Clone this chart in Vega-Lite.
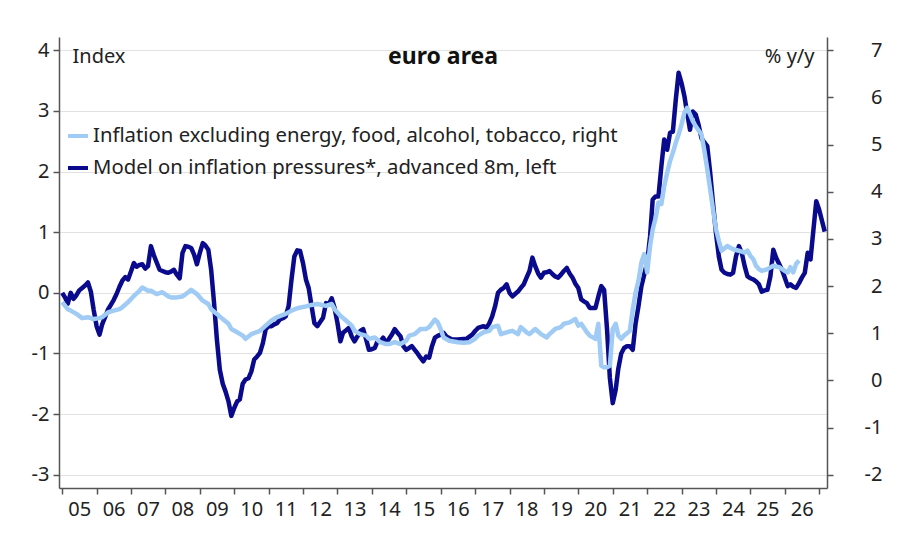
{
  "$schema": "https://vega.github.io/schema/vega-lite/v6.json",
  "width": 768,
  "height": 451,
  "autosize": {"type": "none"},
  "padding": {"left": 59, "top": 37, "right": 73, "bottom": 57},
  "background": "white",
  "config": {
    "font": "Noto Sans",
    "view": {"stroke": null},
    "axis": {
      "labelFontSize": 20,
      "labelColor": "#222",
      "domainColor": "#555",
      "tickColor": "#555",
      "domainWidth": 1.5,
      "tickWidth": 1.5,
      "tickSize": 6,
      "titleFontSize": 20,
      "titleFontWeight": "normal",
      "titleColor": "#222"
    }
  },
  "title": {
    "text": "euro area",
    "fontSize": 23,
    "fontWeight": "bold",
    "color": "#111",
    "anchor": "middle",
    "frame": "group",
    "baseline": "alphabetic",
    "offset": -29,
    "dy": 21
  },
  "datasets": {
    "model": [
      {"date": "2005-01-01", "value": 0.00}, {"date": "2005-02-01", "value": -0.08}, {"date": "2005-03-01", "value": -0.18},
      {"date": "2005-04-01", "value": 0.00}, {"date": "2005-05-01", "value": -0.10}, {"date": "2005-06-01", "value": -0.04},
      {"date": "2005-07-01", "value": 0.04}, {"date": "2005-08-01", "value": 0.08}, {"date": "2005-09-01", "value": 0.12},
      {"date": "2005-10-01", "value": 0.17}, {"date": "2005-11-01", "value": 0.02}, {"date": "2005-12-01", "value": -0.28},
      {"date": "2006-01-01", "value": -0.55}, {"date": "2006-02-01", "value": -0.69}, {"date": "2006-03-01", "value": -0.52},
      {"date": "2006-04-01", "value": -0.40}, {"date": "2006-05-01", "value": -0.28}, {"date": "2006-06-01", "value": -0.20},
      {"date": "2006-07-01", "value": -0.12}, {"date": "2006-08-01", "value": -0.02}, {"date": "2006-09-01", "value": 0.10},
      {"date": "2006-10-01", "value": 0.20}, {"date": "2006-11-01", "value": 0.26}, {"date": "2006-12-01", "value": 0.22},
      {"date": "2007-01-01", "value": 0.35}, {"date": "2007-02-01", "value": 0.49}, {"date": "2007-03-01", "value": 0.43},
      {"date": "2007-04-01", "value": 0.46}, {"date": "2007-05-01", "value": 0.47}, {"date": "2007-06-01", "value": 0.40},
      {"date": "2007-07-01", "value": 0.44}, {"date": "2007-08-01", "value": 0.77}, {"date": "2007-09-01", "value": 0.62},
      {"date": "2007-10-01", "value": 0.50}, {"date": "2007-11-01", "value": 0.38}, {"date": "2007-12-01", "value": 0.36},
      {"date": "2008-01-01", "value": 0.34}, {"date": "2008-02-01", "value": 0.33}, {"date": "2008-03-01", "value": 0.35},
      {"date": "2008-04-01", "value": 0.38}, {"date": "2008-05-01", "value": 0.30}, {"date": "2008-06-01", "value": 0.24},
      {"date": "2008-07-01", "value": 0.66}, {"date": "2008-08-01", "value": 0.77}, {"date": "2008-09-01", "value": 0.76},
      {"date": "2008-10-01", "value": 0.74}, {"date": "2008-11-01", "value": 0.63}, {"date": "2008-12-01", "value": 0.47},
      {"date": "2009-01-01", "value": 0.66}, {"date": "2009-02-01", "value": 0.82}, {"date": "2009-03-01", "value": 0.78},
      {"date": "2009-04-01", "value": 0.71}, {"date": "2009-05-01", "value": 0.38}, {"date": "2009-06-01", "value": -0.17},
      {"date": "2009-07-01", "value": -0.77}, {"date": "2009-08-01", "value": -1.27}, {"date": "2009-09-01", "value": -1.50},
      {"date": "2009-10-01", "value": -1.63}, {"date": "2009-11-01", "value": -1.79}, {"date": "2009-12-01", "value": -2.03},
      {"date": "2010-01-01", "value": -1.90}, {"date": "2010-02-01", "value": -1.79}, {"date": "2010-03-01", "value": -1.76},
      {"date": "2010-04-01", "value": -1.50}, {"date": "2010-05-01", "value": -1.43}, {"date": "2010-06-01", "value": -1.41},
      {"date": "2010-07-01", "value": -1.30}, {"date": "2010-08-01", "value": -1.10}, {"date": "2010-09-01", "value": -1.05},
      {"date": "2010-10-01", "value": -0.99}, {"date": "2010-11-01", "value": -0.83}, {"date": "2010-12-01", "value": -0.60},
      {"date": "2011-01-01", "value": -0.55}, {"date": "2011-02-01", "value": -0.55}, {"date": "2011-03-01", "value": -0.52},
      {"date": "2011-04-01", "value": -0.50}, {"date": "2011-05-01", "value": -0.44}, {"date": "2011-06-01", "value": -0.42},
      {"date": "2011-07-01", "value": -0.39}, {"date": "2011-08-01", "value": -0.22}, {"date": "2011-09-01", "value": 0.22},
      {"date": "2011-10-01", "value": 0.60}, {"date": "2011-11-01", "value": 0.70}, {"date": "2011-12-01", "value": 0.69},
      {"date": "2012-01-01", "value": 0.49}, {"date": "2012-02-01", "value": 0.22}, {"date": "2012-03-01", "value": 0.08},
      {"date": "2012-04-01", "value": -0.22}, {"date": "2012-05-01", "value": -0.50}, {"date": "2012-06-01", "value": -0.55},
      {"date": "2012-07-01", "value": -0.48}, {"date": "2012-08-01", "value": -0.41}, {"date": "2012-09-01", "value": -0.17},
      {"date": "2012-10-01", "value": -0.19}, {"date": "2012-11-01", "value": -0.09}, {"date": "2012-12-01", "value": -0.25},
      {"date": "2013-01-01", "value": -0.50}, {"date": "2013-02-01", "value": -0.80}, {"date": "2013-03-01", "value": -0.66},
      {"date": "2013-04-01", "value": -0.62}, {"date": "2013-05-01", "value": -0.58}, {"date": "2013-06-01", "value": -0.72},
      {"date": "2013-07-01", "value": -0.80}, {"date": "2013-08-01", "value": -0.72}, {"date": "2013-09-01", "value": -0.63},
      {"date": "2013-10-01", "value": -0.60}, {"date": "2013-11-01", "value": -0.77}, {"date": "2013-12-01", "value": -0.94},
      {"date": "2014-01-01", "value": -0.93}, {"date": "2014-02-01", "value": -0.91}, {"date": "2014-03-01", "value": -0.80},
      {"date": "2014-04-01", "value": -0.80}, {"date": "2014-05-01", "value": -0.74}, {"date": "2014-06-01", "value": -0.83},
      {"date": "2014-07-01", "value": -0.76}, {"date": "2014-08-01", "value": -0.69}, {"date": "2014-09-01", "value": -0.60},
      {"date": "2014-10-01", "value": -0.66}, {"date": "2014-11-01", "value": -0.72}, {"date": "2014-12-01", "value": -0.88},
      {"date": "2015-01-01", "value": -0.94}, {"date": "2015-02-01", "value": -0.91}, {"date": "2015-03-01", "value": -0.88},
      {"date": "2015-04-01", "value": -0.94}, {"date": "2015-05-01", "value": -1.00}, {"date": "2015-06-01", "value": -1.07},
      {"date": "2015-07-01", "value": -1.13}, {"date": "2015-08-01", "value": -1.05}, {"date": "2015-09-01", "value": -1.07},
      {"date": "2015-10-01", "value": -0.88}, {"date": "2015-11-01", "value": -0.74}, {"date": "2015-12-01", "value": -0.71},
      {"date": "2016-01-01", "value": -0.69}, {"date": "2016-02-01", "value": -0.66}, {"date": "2016-03-01", "value": -0.72},
      {"date": "2016-05-01", "value": -0.77}, {"date": "2016-07-01", "value": -0.77}, {"date": "2016-09-01", "value": -0.76},
      {"date": "2016-10-01", "value": -0.76}, {"date": "2016-12-01", "value": -0.69}, {"date": "2017-01-01", "value": -0.63},
      {"date": "2017-02-01", "value": -0.58}, {"date": "2017-04-01", "value": -0.55}, {"date": "2017-05-01", "value": -0.58},
      {"date": "2017-06-01", "value": -0.50}, {"date": "2017-07-01", "value": -0.39}, {"date": "2017-08-01", "value": -0.22},
      {"date": "2017-09-01", "value": 0.00}, {"date": "2017-10-01", "value": 0.05}, {"date": "2017-11-01", "value": 0.08},
      {"date": "2017-12-01", "value": 0.14}, {"date": "2018-01-01", "value": 0.00}, {"date": "2018-02-01", "value": -0.06},
      {"date": "2018-03-01", "value": -0.02}, {"date": "2018-04-01", "value": 0.02}, {"date": "2018-05-01", "value": 0.08},
      {"date": "2018-06-01", "value": 0.14}, {"date": "2018-07-01", "value": 0.25}, {"date": "2018-08-01", "value": 0.36},
      {"date": "2018-09-01", "value": 0.58}, {"date": "2018-10-01", "value": 0.44}, {"date": "2018-11-01", "value": 0.32},
      {"date": "2018-12-01", "value": 0.25}, {"date": "2019-01-01", "value": 0.33}, {"date": "2019-02-01", "value": 0.34},
      {"date": "2019-03-01", "value": 0.36}, {"date": "2019-04-01", "value": 0.31}, {"date": "2019-05-01", "value": 0.27},
      {"date": "2019-06-01", "value": 0.25}, {"date": "2019-07-01", "value": 0.30}, {"date": "2019-08-01", "value": 0.36},
      {"date": "2019-09-01", "value": 0.41}, {"date": "2019-10-01", "value": 0.32}, {"date": "2019-11-01", "value": 0.25},
      {"date": "2019-12-01", "value": 0.15}, {"date": "2020-01-01", "value": 0.08}, {"date": "2020-02-01", "value": -0.11},
      {"date": "2020-03-01", "value": -0.14}, {"date": "2020-04-01", "value": -0.17}, {"date": "2020-05-01", "value": -0.25},
      {"date": "2020-06-01", "value": -0.25}, {"date": "2020-07-01", "value": -0.25}, {"date": "2020-08-01", "value": -0.06},
      {"date": "2020-09-01", "value": 0.11}, {"date": "2020-10-01", "value": 0.05}, {"date": "2020-11-01", "value": -0.60},
      {"date": "2020-12-01", "value": -1.40}, {"date": "2021-01-01", "value": -1.82}, {"date": "2021-02-01", "value": -1.60},
      {"date": "2021-03-01", "value": -1.25}, {"date": "2021-04-01", "value": -1.00}, {"date": "2021-05-01", "value": -0.91},
      {"date": "2021-06-01", "value": -0.88}, {"date": "2021-07-01", "value": -0.88}, {"date": "2021-08-01", "value": -0.94},
      {"date": "2021-09-01", "value": -0.50}, {"date": "2021-10-01", "value": -0.22}, {"date": "2021-11-01", "value": 0.11},
      {"date": "2021-12-01", "value": 0.30}, {"date": "2022-01-01", "value": 0.50}, {"date": "2022-02-01", "value": 0.93},
      {"date": "2022-03-01", "value": 1.54}, {"date": "2022-04-01", "value": 1.59}, {"date": "2022-05-01", "value": 1.59},
      {"date": "2022-06-01", "value": 2.09}, {"date": "2022-07-01", "value": 2.53}, {"date": "2022-08-01", "value": 2.36},
      {"date": "2022-09-01", "value": 2.64}, {"date": "2022-10-01", "value": 2.66}, {"date": "2022-11-01", "value": 3.19},
      {"date": "2022-12-01", "value": 3.63}, {"date": "2023-01-01", "value": 3.46}, {"date": "2023-02-01", "value": 3.24},
      {"date": "2023-03-01", "value": 2.97}, {"date": "2023-04-01", "value": 2.69}, {"date": "2023-05-01", "value": 2.99},
      {"date": "2023-06-01", "value": 2.94}, {"date": "2023-07-01", "value": 2.77}, {"date": "2023-08-01", "value": 2.55},
      {"date": "2023-09-01", "value": 2.48}, {"date": "2023-10-01", "value": 2.42}, {"date": "2023-11-01", "value": 1.98},
      {"date": "2023-12-01", "value": 1.48}, {"date": "2024-01-01", "value": 0.99}, {"date": "2024-02-01", "value": 0.60},
      {"date": "2024-03-01", "value": 0.38}, {"date": "2024-04-01", "value": 0.33}, {"date": "2024-05-01", "value": 0.31},
      {"date": "2024-06-01", "value": 0.30}, {"date": "2024-07-01", "value": 0.33}, {"date": "2024-08-01", "value": 0.60},
      {"date": "2024-09-01", "value": 0.77}, {"date": "2024-10-01", "value": 0.66}, {"date": "2024-11-01", "value": 0.44},
      {"date": "2024-12-01", "value": 0.27}, {"date": "2025-01-01", "value": 0.24}, {"date": "2025-02-01", "value": 0.22},
      {"date": "2025-03-01", "value": 0.19}, {"date": "2025-04-01", "value": 0.14}, {"date": "2025-05-01", "value": 0.02},
      {"date": "2025-06-01", "value": 0.04}, {"date": "2025-07-01", "value": 0.05}, {"date": "2025-08-01", "value": 0.27},
      {"date": "2025-09-01", "value": 0.71}, {"date": "2025-10-01", "value": 0.58}, {"date": "2025-11-01", "value": 0.48},
      {"date": "2025-12-01", "value": 0.38}, {"date": "2026-01-01", "value": 0.25}, {"date": "2026-02-01", "value": 0.11},
      {"date": "2026-03-01", "value": 0.14}, {"date": "2026-04-01", "value": 0.10}, {"date": "2026-05-01", "value": 0.08},
      {"date": "2026-06-01", "value": 0.16}, {"date": "2026-07-01", "value": 0.25}, {"date": "2026-08-01", "value": 0.33},
      {"date": "2026-09-01", "value": 0.66}, {"date": "2026-10-01", "value": 0.55}, {"date": "2026-11-01", "value": 1.04},
      {"date": "2026-12-01", "value": 1.51}, {"date": "2027-01-01", "value": 1.37}, {"date": "2027-02-01", "value": 1.18},
      {"date": "2027-03-01", "value": 1.01}
    ],
    "core": [
      {"date": "2005-01-01", "value": 1.66}, {"date": "2005-03-01", "value": 1.51}, {"date": "2005-04-01", "value": 1.48},
      {"date": "2005-06-01", "value": 1.41}, {"date": "2005-08-01", "value": 1.32}, {"date": "2005-10-01", "value": 1.34},
      {"date": "2005-12-01", "value": 1.30}, {"date": "2006-02-01", "value": 1.32}, {"date": "2006-03-01", "value": 1.34},
      {"date": "2006-05-01", "value": 1.44}, {"date": "2006-07-01", "value": 1.48}, {"date": "2006-09-01", "value": 1.51},
      {"date": "2006-10-01", "value": 1.55}, {"date": "2006-12-01", "value": 1.66}, {"date": "2007-02-01", "value": 1.79},
      {"date": "2007-04-01", "value": 1.90}, {"date": "2007-05-01", "value": 1.97}, {"date": "2007-07-01", "value": 1.90},
      {"date": "2007-08-01", "value": 1.90}, {"date": "2007-10-01", "value": 1.83}, {"date": "2007-12-01", "value": 1.87},
      {"date": "2008-02-01", "value": 1.78}, {"date": "2008-03-01", "value": 1.76}, {"date": "2008-05-01", "value": 1.76},
      {"date": "2008-07-01", "value": 1.78}, {"date": "2008-09-01", "value": 1.87}, {"date": "2008-10-01", "value": 1.92},
      {"date": "2008-12-01", "value": 1.83}, {"date": "2009-02-01", "value": 1.69}, {"date": "2009-04-01", "value": 1.62},
      {"date": "2009-05-01", "value": 1.51}, {"date": "2009-07-01", "value": 1.41}, {"date": "2009-09-01", "value": 1.30},
      {"date": "2009-11-01", "value": 1.20}, {"date": "2009-12-01", "value": 1.09}, {"date": "2010-02-01", "value": 1.02},
      {"date": "2010-04-01", "value": 0.95}, {"date": "2010-05-01", "value": 0.88}, {"date": "2010-07-01", "value": 0.98},
      {"date": "2010-10-01", "value": 1.05}, {"date": "2010-12-01", "value": 1.16}, {"date": "2011-02-01", "value": 1.27},
      {"date": "2011-04-01", "value": 1.34}, {"date": "2011-07-01", "value": 1.41}, {"date": "2011-09-01", "value": 1.48},
      {"date": "2011-11-01", "value": 1.53}, {"date": "2012-02-01", "value": 1.57}, {"date": "2012-04-01", "value": 1.60},
      {"date": "2012-06-01", "value": 1.62}, {"date": "2012-09-01", "value": 1.58}, {"date": "2012-11-01", "value": 1.62},
      {"date": "2012-12-01", "value": 1.51}, {"date": "2013-02-01", "value": 1.37}, {"date": "2013-04-01", "value": 1.27},
      {"date": "2013-06-01", "value": 1.16}, {"date": "2013-07-01", "value": 1.05}, {"date": "2013-09-01", "value": 0.98},
      {"date": "2013-11-01", "value": 0.95}, {"date": "2013-12-01", "value": 0.88}, {"date": "2014-02-01", "value": 0.91},
      {"date": "2014-04-01", "value": 0.81}, {"date": "2014-06-01", "value": 0.77}, {"date": "2014-07-01", "value": 0.77},
      {"date": "2014-09-01", "value": 0.81}, {"date": "2014-11-01", "value": 0.77}, {"date": "2015-01-01", "value": 0.84},
      {"date": "2015-02-01", "value": 0.95}, {"date": "2015-04-01", "value": 0.98}, {"date": "2015-06-01", "value": 1.09},
      {"date": "2015-08-01", "value": 1.09}, {"date": "2015-09-01", "value": 1.13}, {"date": "2015-11-01", "value": 1.29},
      {"date": "2015-12-01", "value": 1.23}, {"date": "2016-01-01", "value": 1.09}, {"date": "2016-02-01", "value": 0.91},
      {"date": "2016-04-01", "value": 0.84}, {"date": "2016-07-01", "value": 0.81}, {"date": "2016-09-01", "value": 0.80},
      {"date": "2016-11-01", "value": 0.81}, {"date": "2017-01-01", "value": 0.88}, {"date": "2017-02-01", "value": 0.95},
      {"date": "2017-04-01", "value": 1.02}, {"date": "2017-06-01", "value": 1.05}, {"date": "2017-07-01", "value": 1.13},
      {"date": "2017-09-01", "value": 1.16}, {"date": "2017-10-01", "value": 0.98}, {"date": "2017-12-01", "value": 1.02},
      {"date": "2018-02-01", "value": 1.05}, {"date": "2018-04-01", "value": 0.98}, {"date": "2018-05-01", "value": 1.13},
      {"date": "2018-07-01", "value": 1.02}, {"date": "2018-08-01", "value": 0.98}, {"date": "2018-10-01", "value": 1.09},
      {"date": "2018-12-01", "value": 0.98}, {"date": "2019-02-01", "value": 0.91}, {"date": "2019-03-01", "value": 0.98},
      {"date": "2019-05-01", "value": 1.09}, {"date": "2019-07-01", "value": 1.13}, {"date": "2019-08-01", "value": 1.20},
      {"date": "2019-10-01", "value": 1.23}, {"date": "2019-12-01", "value": 1.30}, {"date": "2020-01-01", "value": 1.16},
      {"date": "2020-02-01", "value": 1.20}, {"date": "2020-04-01", "value": 1.02}, {"date": "2020-05-01", "value": 0.95},
      {"date": "2020-07-01", "value": 0.88}, {"date": "2020-08-01", "value": 1.20}, {"date": "2020-09-01", "value": 0.31},
      {"date": "2020-10-01", "value": 0.28}, {"date": "2020-11-01", "value": 0.28}, {"date": "2020-12-01", "value": 0.31},
      {"date": "2021-01-01", "value": 1.09}, {"date": "2021-02-01", "value": 1.20}, {"date": "2021-03-01", "value": 0.95},
      {"date": "2021-04-01", "value": 0.88}, {"date": "2021-05-01", "value": 0.95}, {"date": "2021-06-01", "value": 1.00},
      {"date": "2021-07-01", "value": 1.05}, {"date": "2021-08-01", "value": 1.50}, {"date": "2021-09-01", "value": 1.87},
      {"date": "2021-10-01", "value": 2.11}, {"date": "2021-11-01", "value": 2.50}, {"date": "2021-12-01", "value": 2.68},
      {"date": "2022-01-01", "value": 2.29}, {"date": "2022-02-01", "value": 2.85}, {"date": "2022-03-01", "value": 3.20},
      {"date": "2022-04-01", "value": 3.45}, {"date": "2022-05-01", "value": 3.77}, {"date": "2022-06-01", "value": 3.74},
      {"date": "2022-07-01", "value": 4.12}, {"date": "2022-08-01", "value": 4.40}, {"date": "2022-09-01", "value": 4.65},
      {"date": "2022-10-01", "value": 4.83}, {"date": "2022-11-01", "value": 5.04}, {"date": "2022-12-01", "value": 5.22},
      {"date": "2023-01-01", "value": 5.43}, {"date": "2023-02-01", "value": 5.68}, {"date": "2023-03-01", "value": 5.78},
      {"date": "2023-04-01", "value": 5.64}, {"date": "2023-05-01", "value": 5.50}, {"date": "2023-06-01", "value": 5.39},
      {"date": "2023-07-01", "value": 5.30}, {"date": "2023-08-01", "value": 5.22}, {"date": "2023-09-01", "value": 4.86},
      {"date": "2023-10-01", "value": 4.48}, {"date": "2023-11-01", "value": 4.05}, {"date": "2023-12-01", "value": 3.63},
      {"date": "2024-01-01", "value": 3.21}, {"date": "2024-02-01", "value": 2.96}, {"date": "2024-03-01", "value": 2.75},
      {"date": "2024-05-01", "value": 2.85}, {"date": "2024-07-01", "value": 2.78}, {"date": "2024-09-01", "value": 2.75},
      {"date": "2024-11-01", "value": 2.71}, {"date": "2024-12-01", "value": 2.75}, {"date": "2025-01-01", "value": 2.64},
      {"date": "2025-02-01", "value": 2.57}, {"date": "2025-03-01", "value": 2.43}, {"date": "2025-04-01", "value": 2.36},
      {"date": "2025-05-01", "value": 2.32}, {"date": "2025-07-01", "value": 2.36}, {"date": "2025-09-01", "value": 2.43},
      {"date": "2025-11-01", "value": 2.40}, {"date": "2026-01-01", "value": 2.32}, {"date": "2026-02-01", "value": 2.29},
      {"date": "2026-03-01", "value": 2.40}, {"date": "2026-04-01", "value": 2.29}, {"date": "2026-05-01", "value": 2.47},
      {"date": "2026-06-01", "value": 2.54}
    ]
  },
  "encoding": {
    "x": {
      "field": "date",
      "type": "temporal",
      "title": null,
      "scale": {
        "type": "utc",
        "domain": [
          {"year": 2004, "month": 11, "date": 28, "utc": true},
          {"year": 2027, "month": 3, "date": 25, "utc": true}
        ]
      },
      "axis": {
        "tickCount": {"interval": "year", "step": 1},
        "format": "%y",
        "labelExpr": "utcyear(datum.value) >= 2027 ? '' : datum.label",
        "labelOffset": 17,
        "labelPadding": 5,
        "labelFlush": false,
        "labelOverlap": false,
        "grid": false
      }
    },
    "color": {
      "field": "series",
      "type": "nominal",
      "scale": {"domain": ["core", "model"], "range": ["#9fcbf4", "#0a0a8c"]},
      "legend": {
        "title": null,
        "orient": "none",
        "legendX": 7,
        "legendY": 87,
        "symbolType": "stroke",
        "symbolSize": 400,
        "symbolStrokeWidth": 4,
        "labelFontSize": 20.3,
        "labelColor": "#222",
        "labelOffset": 3,
        "labelLimit": 700,
        "rowPadding": 9,
        "labelExpr": "datum.label == 'core' ? 'Inflation excluding energy, food, alcohol, tobacco, right' : 'Model on inflation pressures*, advanced 8m, left'"
      }
    }
  },
  "layer": [
    {
      "data": {"name": "model"},
      "transform": [{"calculate": "'model'", "as": "series"}],
      "mark": {"type": "line", "strokeWidth": 4.5, "strokeJoin": "round"},
      "encoding": {
        "y": {
          "field": "value",
          "type": "quantitative",
          "scale": {"domain": [-3.22, 4.22], "nice": false, "zero": false},
          "axis": {
            "orient": "left",
            "values": [-3, -2, -1, 0, 1, 2, 3, 4],
            "labelExpr": "'' + datum.value",
            "grid": true,
            "gridColor": "#e2e2e2",
            "gridWidth": 1,
            "labelPadding": 4,
            "title": "Index",
            "titleAngle": 0,
            "titleAlign": "left",
            "titleBaseline": "alphabetic",
            "titleX": 13,
            "titleY": 25
          }
        }
      }
    },
    {
      "data": {"name": "core"},
      "transform": [{"calculate": "'core'", "as": "series"}],
      "mark": {"type": "line", "strokeWidth": 4.5, "strokeJoin": "round"},
      "encoding": {
        "y": {
          "field": "value",
          "type": "quantitative",
          "scale": {"domain": [-2.283, 7.283], "nice": false, "zero": false},
          "axis": {
            "orient": "right",
            "values": [-2, -1, 0, 1, 2, 3, 4, 5, 6, 7],
            "labelExpr": "'' + datum.value",
            "grid": false,
            "labelAlign": "right",
            "labelPadding": 49,
            "title": "% y/y",
            "titleAngle": 0,
            "titleAlign": "right",
            "titleBaseline": "alphabetic",
            "titleX": -13,
            "titleY": 25
          }
        }
      }
    }
  ],
  "resolve": {"scale": {"y": "independent"}}
}
